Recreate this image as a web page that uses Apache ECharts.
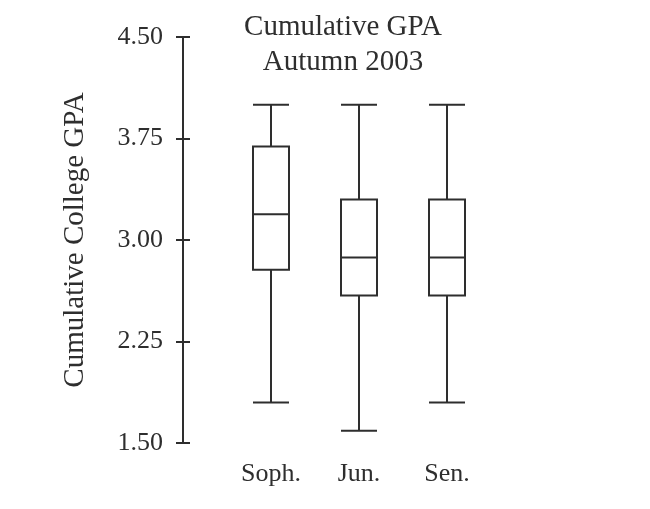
<!DOCTYPE html>
<html>
<head>
<meta charset="utf-8">
<script src="https://cdn.jsdelivr.net/npm/echarts@6/dist/echarts.min.js"></script>
<style>
  html, body { margin: 0; padding: 0; background: #fff; }
  #chart { width: 650px; height: 509px; }
</style>
</head>
<body>
<div id="chart"></div>
<script>
/** 数据：五数概括 [min, Q1, median, Q3, max] */
const CLASSES = ["Soph.", "Jun.", "Sen."]
const MINS = [1.80, 1.59, 1.80]
const Q1S = [2.78, 2.59, 2.59]
const MEDIANS = [3.19, 2.87, 2.87]
const Q3S = [3.69, 3.30, 3.30]
const MAXS = [4.00, 4.00, 4.00]
const Y_TICKS = [1.50, 2.25, 3.00, 3.75, 4.50]

const INK = "#2e2e2e"
const FONT = "Liberation Serif"

function getBoxData() {
    let rows = []
    for (let i = 0; i < CLASSES.length; i++) {
        rows.push([MINS[i], Q1S[i], MEDIANS[i], Q3S[i], MAXS[i]])
    }
    return rows
}

/** y 轴：两条叠在一起，一条刻度朝外，一条朝内，做出十字刻度 */
function getYAxis(inside) {
    return {
        type: "value",
        position: "left",
        offset: 44,
        min: Y_TICKS[0],
        max: Y_TICKS[Y_TICKS.length - 1],
        interval: Y_TICKS[1] - Y_TICKS[0],
        axisLine: { show: true, lineStyle: { color: INK, width: 2 } },
        axisTick: { show: true, inside: inside, length: 7, lineStyle: { color: INK, width: 2 } },
        axisLabel: {
            show: !inside,
            margin: 20,
            color: INK,
            fontFamily: FONT,
            fontSize: 26,
            formatter: v => v.toFixed(2)
        },
        splitLine: { show: false },
        name: inside ? "" : "Cumulative College GPA",
        nameLocation: "middle",
        nameGap: 93,
        nameTextStyle: { color: INK, fontFamily: FONT, fontSize: 29 }
    }
}

let chart = echarts.init(document.getElementById("chart"))

chart.setOption({
    animation: false,
    backgroundColor: "#fff",
    title: {
        text: "Cumulative GPA\nAutumn 2003",
        left: 343,
        top: 10,
        padding: 0,
        textAlign: "center",
        textStyle: {
            color: INK,
            fontFamily: FONT,
            fontSize: 29,
            fontWeight: "normal",
            lineHeight: 35
        }
    },
    grid: { left: 227, width: 264, top: 37, height: 406 },
    xAxis: {
        type: "category",
        data: CLASSES,
        axisLine: { show: false },
        axisTick: { show: false },
        axisLabel: { margin: 18, color: INK, fontFamily: FONT, fontSize: 26 },
        splitLine: { show: false }
    },
    yAxis: [getYAxis(false), getYAxis(true)],
    series: [{
        type: "boxplot",
        yAxisIndex: 0,
        data: getBoxData(),
        boxWidth: [36, 36],
        itemStyle: { color: "#fff", borderColor: INK, borderWidth: 2 },
        emphasis: { disabled: true }
    }]
})
</script>
</body>
</html>
